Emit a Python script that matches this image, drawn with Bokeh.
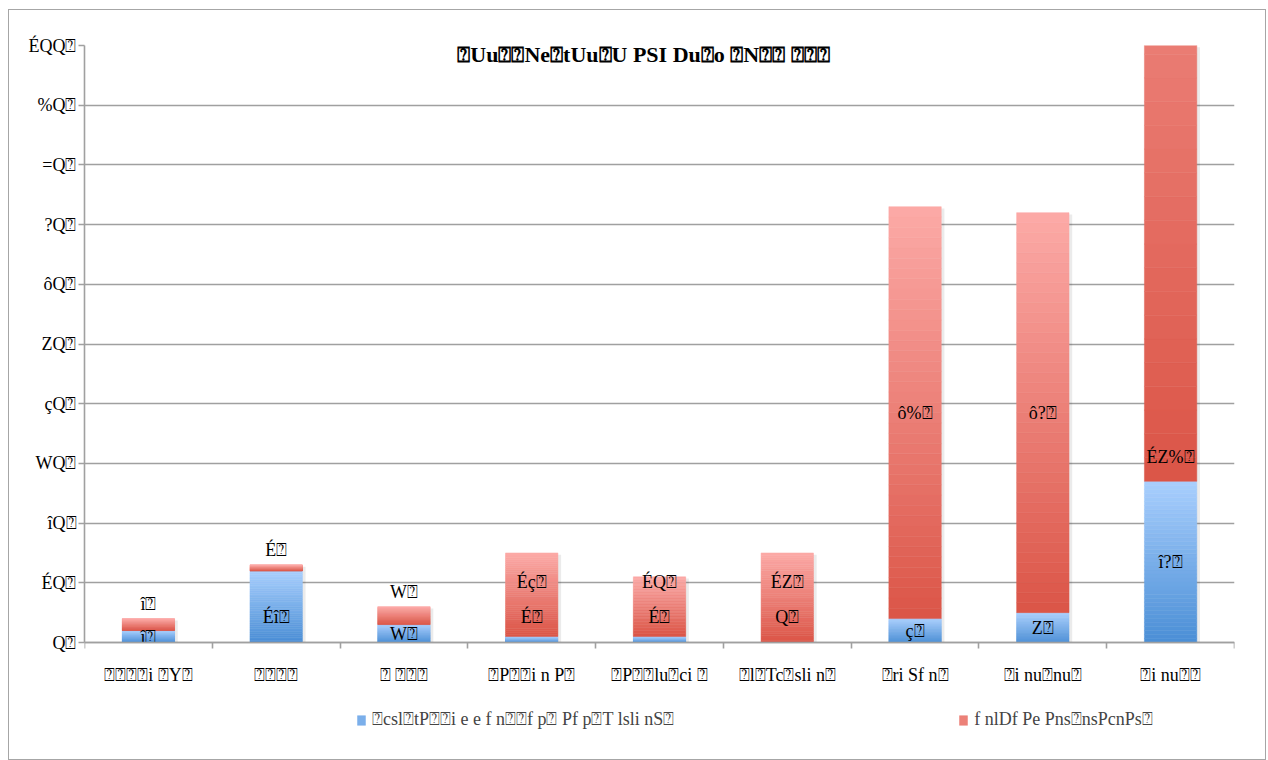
import numpy as np
from bokeh.plotting import figure
from bokeh.models import (ColumnDataSource, Range1d, FixedTicker, Label, Legend, LegendItem)
from bokeh.core.properties import value
from bokeh.embed import file_html
from bokeh.resources import INLINE

# ---------------- data ----------------
TOFU = "\u2370"
# glyphs the source font used for the digits 0..9
DIGIT_GLYPHS = ["Q", "\u00c9", "\u00ee", "W", "\u00e7", "Z", "\u00f4", "?", "=", "%"]

categories = [
    "⍰⍰⍰⍰i ⍰Y⍰",
    "⍰⍰⍰⍰",
    "⍰ ⍰⍰⍰",
    "⍰P⍰⍰i n P⍰",
    "⍰P⍰⍰lu⍰ci ⍰",
    "⍰l⍰Tc⍰sli n⍰",
    "⍰ri Sf n⍰",
    "⍰i nu⍰nu⍰",
    "⍰i nu⍰⍰",
]
series_blue = [2, 12, 3, 1, 1, 0, 4, 5, 27]
series_red = [2, 1, 3, 14, 10, 15, 69, 67, 159]
series_names = ["⍰csl⍰tP⍰⍰i e e f n⍰⍰f p⍰ Pf p⍰T lsli nS⍰",
                "f nlDf Pe Pns⍰nsPcnPs⍰"]
title_text = "⍰Uu⍰⍰Ne⍰tUu⍰U PSI Du⍰o ⍰N⍰⍰ ⍰⍰⍰"
y_ticks = list(range(0, 101, 10))


def enc(n):
    return "".join(DIGIT_GLYPHS[int(d)] for d in str(int(n))) + TOFU


FONT = "Liberation Serif"
N = len(categories)
centers = np.arange(N) + 0.5
YMAX = 100

# layout (pixels): frame spans 44..750 vertically, value axis 0 sits at 641
FRAME_TOP, FRAME_BOTTOM, ZERO_PX = 44, 750, 641
YMIN = -YMAX * (FRAME_BOTTOM - ZERO_PX) / (ZERO_PX - FRAME_TOP)

p = figure(width=1258, height=751, output_backend="svg", toolbar_location=None,
           x_range=Range1d(0, N), y_range=Range1d(YMIN, YMAX),
           min_border_left=75, min_border_right=33, min_border_top=FRAME_TOP - 9,
           min_border_bottom=760 - FRAME_BOTTOM)
p.margin = (9, 0, 0, 8)
p.styles = {"border": "1px solid #a6a6a6"}
p.outline_line_color = None
p.background_fill_color = "white"
p.border_fill_color = "white"


def hex2rgb(h):
    h = h.lstrip("#")
    return np.array([int(h[i:i + 2], 16) for i in (0, 2, 4)], dtype=float)


def rgb2hex(c):
    return "#%02x%02x%02x" % tuple(int(round(v)) for v in c)


def gradient_source(bottoms, heights, top_col, bot_col, width=0.41, n=40):
    t, b = hex2rgb(top_col), hex2rgb(bot_col)
    L, R, B, T, C = [], [], [], [], []
    for x, b0, h in zip(centers, bottoms, heights):
        if h <= 0:
            continue
        for k in range(n):
            f0, f1 = k / n, (k + 1) / n
            L.append(x - width / 2)
            R.append(x + width / 2)
            B.append(b0 + h * f0)
            T.append(b0 + h * f1 + 1e-9)
            C.append(rgb2hex(b + (t - b) * (f0 + f1) / 2))
    return ColumnDataSource(dict(left=L, right=R, bottom=B, top=T, color=C))


blue = np.array(series_blue, dtype=float)
red = np.array(series_red, dtype=float)

# subtle shadow
sh = ColumnDataSource(dict(left=centers - 0.205 + 0.015, right=centers + 0.205 + 0.025,
                           bottom=np.zeros(N), top=np.minimum(blue + red, YMAX) - 0.3))
p.quad(left="left", right="right", bottom="bottom", top="top", source=sh,
       fill_color="#000000", fill_alpha=0.08, line_color=None)

src_b = gradient_source(np.zeros(N), blue, "#a9cffd", "#4a8ed6")
src_r = gradient_source(blue, red, "#fcaaa7", "#db5547")
rb = p.quad(left="left", right="right", bottom="bottom", top="top", source=src_b,
            fill_color="color", line_color="color", line_width=0.5)
rr = p.quad(left="left", right="right", bottom="bottom", top="top", source=src_r,
            fill_color="color", line_color="color", line_width=0.5)

# value labels (placement rule: centred, nudged up for thin segments)
LIFT = 4.2
bl_y = np.where(blue <= 1, LIFT, np.where((blue < 20) & (blue / 2 > LIFT), LIFT, blue / 2))
tot = blue + red
rl_y = np.where(red < 5, tot + 2.5,
                np.where(tot > YMAX, blue + 4,
                         np.where(red < 20, np.maximum(blue + red / 2, 10.2), blue + red / 2)))
lab = ColumnDataSource(dict(x=np.concatenate([centers, centers]),
                            y=np.concatenate([bl_y, rl_y]),
                            t=[enc(v) for v in series_blue] + [enc(v) for v in series_red]))
p.text(x="x", y="y", text="t", source=lab, text_font=value(FONT), text_font_size="18px",
       text_align="center", text_baseline="middle", text_color="#000000")

# axes
p.xgrid.grid_line_color = None
p.ygrid.grid_line_color = "#a0a0a0"
p.ygrid.grid_line_width = 1.6
p.yaxis.ticker = FixedTicker(ticks=y_ticks)
p.yaxis.bounds = (0, YMAX)
p.yaxis.major_label_overrides = {t: enc(t) for t in y_ticks}
p.xaxis.ticker = FixedTicker(ticks=list(centers), minor_ticks=list(range(N + 1)))
p.xaxis.major_label_overrides = {float(c): s for c, s in zip(centers, categories)}
p.xaxis.fixed_location = 0
for ax in (p.xaxis, p.yaxis):
    ax.axis_line_color = "#a0a0a0"
    ax.axis_line_width = 1.6
    ax.major_tick_line_color = "#a0a0a0"
    ax.minor_tick_line_color = "#a0a0a0"
    ax.major_tick_line_width = 1.6
    ax.minor_tick_line_width = 1.6
    ax.major_tick_in = 0
    ax.minor_tick_in = 0
    ax.major_label_text_font = FONT
    ax.major_label_text_font_size = "18px"
    ax.major_label_text_color = "#000000"
p.yaxis.major_tick_out = 6
p.yaxis.minor_tick_out = 0
p.yaxis.major_label_standoff = 2
p.xaxis.major_tick_out = 0
p.xaxis.minor_tick_out = 6
p.xaxis.major_label_standoff = 16

# title inside plot area
p.add_layout(Label(x=N / 2, y=YMAX, x_offset=-16, y_offset=-9, text=title_text,
                   text_font=FONT, text_font_size="22px", text_font_style="bold",
                   text_align="center", text_baseline="middle", text_color="#000000"))

# legend (inside the extended frame, below the category labels)
legend = Legend(items=[LegendItem(label=series_names[0], renderers=[rb], index=20),
                       LegendItem(label=series_names[1], renderers=[rr], index=20)],
                orientation="horizontal", location=(272, 21), spacing=284,
                glyph_width=10, glyph_height=12, label_standoff=6, padding=0, margin=0,
                border_line_color=None, background_fill_alpha=0,
                label_text_font=FONT, label_text_font_size="18px", label_height=18)
p.add_layout(legend, "center")

open("out.html", "w").write(file_html(p, INLINE))
